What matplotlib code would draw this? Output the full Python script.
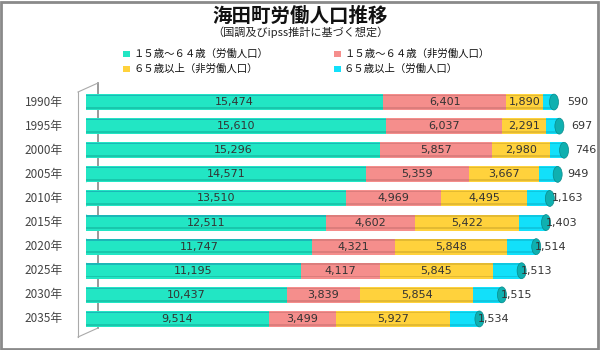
import matplotlib
matplotlib.use("Agg")
import matplotlib.pyplot as plt
from matplotlib.patches import Rectangle, Ellipse
from matplotlib.lines import Line2D

plt.rcParams['font.family'] = ['Noto Sans CJK JP', 'DejaVu Sans']

years = ['1990年', '1995年', '2000年', '2005年', '2010年', '2015年', '2020年', '2025年', '2030年', '2035年']
labor_15_64 = [15474, 15610, 15296, 14571, 13510, 12511, 11747, 11195, 10437, 9514]
nonlabor_15_64 = [6401, 6037, 5857, 5359, 4969, 4602, 4321, 4117, 3839, 3499]
nonlabor_65 = [1890, 2291, 2980, 3667, 4495, 5422, 5848, 5845, 5854, 5927]
labor_65 = [590, 697, 746, 949, 1163, 1403, 1514, 1513, 1515, 1534]
series_names = ['１５歳～６４歳（労働人口）', '１５歳～６４歳（非労働人口）',
                '６５歳以上（非労働人口）', '６５歳以上（労働人口）']
colors = ['#22E6C4', '#F58E8C', '#FFD23C', '#12E0FA']
edge_colors = ['#0A8F80', '#B06060', '#B09020', '#0A9AB0']
title = '海田町労働人口推移'
subtitle = '（国調及びipss推計に基づく想定）'

W, H = 600, 350
fig = plt.figure(figsize=(6, 3.5), dpi=100)
fig.patch.set_facecolor('white')

# outer border
fig.add_artist(Rectangle((0.002, 0.003), 0.994, 0.992, transform=fig.transFigure,
                         fill=False, edgecolor='#8a8a8a', linewidth=2))

XMAX = 25500
top_px, bot_px = 90, 331
ax_left_px, ax_w_px = 86, 490
ax = fig.add_axes([ax_left_px / W, 1 - bot_px / H, ax_w_px / W, (bot_px - top_px) / H])
ax.set_xlim(0, XMAX)
ax.set_ylim(len(years) - 0.5, -0.5)
ax.axis('off')
px_per_unit = ax_w_px / XMAX

# 3D wall lines (behind bars)
wall_x = 98 / W
for xs, ys, c, lw in [([wall_x, wall_x], [1 - 83 / H, 1 - 328 / H], '#888888', 1.2),
                      ([78 / W, 78 / W], [1 - 92 / H, 1 - 337 / H], '#aaaaaa', 0.8),
                      ([78 / W, wall_x], [1 - 92 / H, 1 - 83 / H], '#aaaaaa', 0.8),
                      ([78 / W, wall_x], [1 - 337 / H, 1 - 328 / H], '#aaaaaa', 0.8)]:
    ax.add_line(Line2D(xs, ys, transform=fig.transFigure, color=c, linewidth=lw,
                       clip_on=False, zorder=1))

ypos = list(range(len(years)))
bh = 0.66
series = [labor_15_64, nonlabor_15_64, nonlabor_65, labor_65]
left = [0] * len(years)
for s, c in zip(series, colors):
    ax.barh(ypos, s, left=left, height=bh, color=c, edgecolor='none', zorder=3)
    left = [l + v for l, v in zip(left, s)]

# shading for a cylinder look
left = [0] * len(years)
for s, ec in zip(series, edge_colors):
    ax.barh([y + bh * 0.36 for y in ypos], s, left=left, height=bh * 0.12,
            color=ec, alpha=0.35, edgecolor='none', zorder=4)
    ax.barh([y - bh * 0.42 for y in ypos], s, left=left, height=bh * 0.08,
            color='#1060a0' if s is labor_15_64 else ec, alpha=0.35, edgecolor='none', zorder=4)
    left = [l + v for l, v in zip(left, s)]

# end caps
cap_w = 9 / px_per_unit
for y, tot in zip(ypos, left):
    ax.add_patch(Ellipse((tot, y), cap_w, bh, facecolor='#0FB0B0', edgecolor='#0A8A8A',
                         linewidth=0.5, zorder=5))
    ax.add_patch(Ellipse((0, y), cap_w, bh, facecolor=colors[0], edgecolor='none', zorder=2))

# value labels
lbl_kw = dict(fontsize=8, color='#333333', va='center', ha='center', zorder=6,
              family=['DejaVu Sans'])
left = [0] * len(years)
for s in series[:3]:
    for y, l, v in zip(ypos, left, s):
        ax.text(l + v / 2, y, f'{v:,}', **lbl_kw)
    left = [l + v for l, v in zip(left, s)]
for y, l in zip(ypos, left):
    v = labor_65[y]
    ax.text(l + v / 2 + 29 / px_per_unit, y, f'{v:,}', **lbl_kw)

# year labels
for y, yr in zip(ypos, years):
    ax.text(-23 / px_per_unit, y, yr, fontsize=8.5, color='#444444', va='center', ha='right')

# titles
fig.text(0.5, 1 - 16 / H, title, ha='center', va='center', fontsize=14, fontweight='bold',
         color='#111111')
fig.text(0.5, 1 - 32 / H, subtitle, ha='center', va='center', fontsize=8, color='#222222')

# legend
leg_pos = [(123, 54), (334, 54), (123, 69), (334, 69)]
for (x, y), name, c in zip(leg_pos, series_names, colors):
    fig.add_artist(Rectangle((x / W, 1 - (y + 3) / H), 7 / W, 6 / H, transform=fig.transFigure,
                             facecolor=c, edgecolor='none'))
    fig.text((x + 10) / W, 1 - y / H, name, ha='left', va='center', fontsize=7.5, color='#111111')

fig.savefig('out.png', dpi=100, facecolor='white')
